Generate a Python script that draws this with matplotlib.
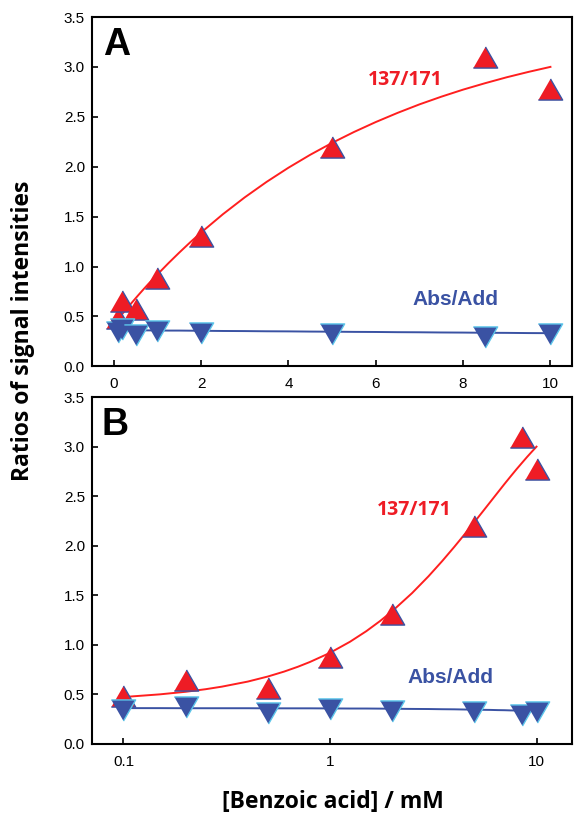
""" Ratios of signal intensities vs benzoic acid concentration, linear (A) and log (B) x axis """

import matplotlib.pyplot as plt
import numpy as np

# measured points
conc = [0.1, 0.2, 0.5, 1, 2, 5, 8.5, 10]
ratio_137_171 = [0.48, 0.65, 0.57, 0.88, 1.31, 2.20, 3.10, 2.78]
ratio_abs_add = [0.34, 0.37, 0.31, 0.35, 0.33, 0.32, 0.29, 0.32]

# fitted curves
fit_x = [0.1, 0.15, 0.2, 0.25, 0.3, 0.4, 0.5, 0.6, 0.7, 0.8, 1.0, 1.25, 1.5, 1.75,
         2.0, 2.5, 3.0, 3.5, 4.0, 4.5, 5.0, 5.5, 6.0, 6.5, 7.0, 7.5, 8.0, 8.5,
         9.0, 9.5, 10.0]
fit_137_171 = [0.474, 0.501, 0.527, 0.553, 0.579, 0.630, 0.681, 0.731, 0.780, 0.828,
               0.920, 1.032, 1.139, 1.242, 1.340, 1.524, 1.693, 1.848, 1.990, 2.120,
               2.239, 2.348, 2.448, 2.540, 2.625, 2.702, 2.773, 2.837, 2.897, 2.951,
               3.001]
fit_abs_add = [0.362, 0.362, 0.361, 0.361, 0.361, 0.361, 0.360, 0.360, 0.360, 0.360,
               0.359, 0.358, 0.358, 0.357, 0.356, 0.354, 0.353, 0.351, 0.350, 0.348,
               0.347, 0.345, 0.344, 0.342, 0.341, 0.339, 0.338, 0.336, 0.335, 0.333,
               0.332]

yticks = [0.0, 0.5, 1.0, 1.5, 2.0, 2.5, 3.0, 3.5]

red = '#ee1c25'
red_line = '#ff1f1f'
blue = '#3a52a3'
cyan = '#5cc6ea'
tri_up = [(-1, -0.87), (1, -0.87), (0, 0.87)]
tri_down = [(-1, 0.87), (1, 0.87), (0, -0.87)]

fig = plt.figure(figsize=(5.74, 8.14), dpi=100)
ax_a = fig.add_axes([0.160, 0.550, 0.837, 0.429])
ax_b = fig.add_axes([0.160, 0.086, 0.837, 0.426])


def style(ax):
    ax.set_ylim(0, 3.5)
    ax.set_yticks(yticks)
    ax.set_yticklabels(['%.1f' % v for v in yticks])
    for s in ax.spines.values():
        s.set_linewidth(1.5)
    ax.tick_params(direction='in', length=4, width=1.2, labelsize=11,
                   right=False, top=False)
    ax.tick_params(axis='y', pad=5)
    ax.tick_params(axis='x', pad=8)
    for lab in ax.get_xticklabels() + ax.get_yticklabels():
        lab.set_fontfamily('Liberation Sans')


def draw(ax):
    ax.plot(fit_x, fit_137_171, color=red_line, lw=1.4, zorder=2)
    ax.plot(fit_x, fit_abs_add, color=blue, lw=1.4, zorder=2)
    ax.plot(conc, ratio_137_171, ls='none', marker=tri_up, ms=17.5,
            mfc=red, mec=blue, mew=1.0, zorder=3)
    ax.plot(conc, ratio_abs_add, ls='none', marker=tri_down, ms=17.5,
            mfc=blue, mec=cyan, mew=1.0, zorder=4)


# panel A, linear
draw(ax_a)
ax_a.set_xlim(-0.5, 10.5)
ax_a.set_xticks([0, 2, 4, 6, 8, 10])
style(ax_a)
ax_a.text(0.052, 0.92, 'A', transform=ax_a.transAxes, ha='center', va='center',
          fontsize=27, fontweight='bold', family='Liberation Sans')
ax_a.text(6.68, 2.87, '137/171', color=red, ha='center', va='center',
          fontsize=14, fontweight='bold', family='Open Sans')
ax_a.text(7.82, 0.67, 'Abs/Add', color=blue, ha='center', va='center',
          fontsize=15, fontweight='bold', family='Liberation Sans')

# panel B, log
draw(ax_b)
ax_b.set_xscale('log')
ax_b.set_xlim(0.0703, 14.9)
ax_b.set_xticks([0.1, 1, 10])
ax_b.set_xticklabels(['0.1', '1', '10'])
ax_b.minorticks_off()
style(ax_b)
ax_b.text(0.048, 0.919, 'B', transform=ax_b.transAxes, ha='center', va='center',
          fontsize=27, fontweight='bold', family='Liberation Sans')
ax_b.text(2.56, 2.36, '137/171', color=red, ha='center', va='center',
          fontsize=14, fontweight='bold', family='Open Sans')
ax_b.text(3.83, 0.676, 'Abs/Add', color=blue, ha='center', va='center',
          fontsize=15, fontweight='bold', family='Liberation Sans')

fig.text(23 / 574, 1 - 331 / 814, 'Ratios of signal intensities', rotation=90,
         ha='center', va='center', fontsize=16.5, fontweight='bold', family='Open Sans')
fig.text(333 / 574, 1 - 802 / 814, '[Benzoic acid] / mM', ha='center', va='center',
         fontsize=16.5, fontweight='bold', family='Open Sans')

fig.savefig('out.png', dpi=100)
